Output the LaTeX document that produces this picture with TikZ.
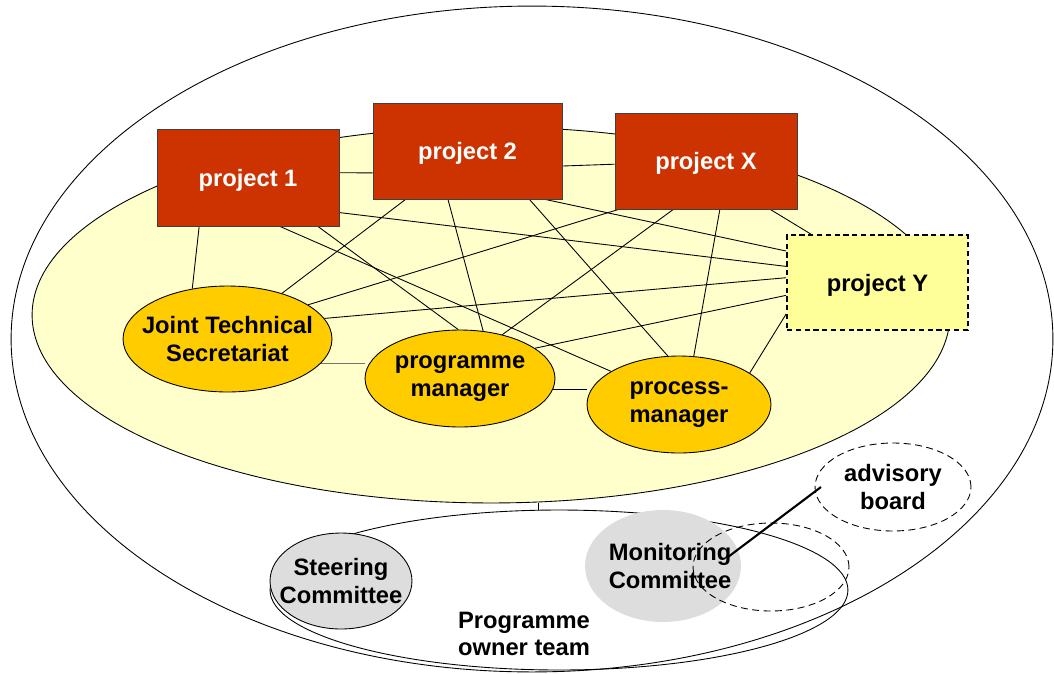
\documentclass[tikz,border=0pt]{standalone}
\usepackage{fontspec}
\setmainfont{Liberation Sans}
\definecolor{projred}{RGB}{204,51,0}
\definecolor{poolyellow}{RGB}{255,255,204}
\definecolor{paleyellow}{RGB}{255,255,153}
\definecolor{mgrgold}{RGB}{255,204,0}
\definecolor{cmtgray}{RGB}{221,221,221}
\usetikzlibrary{shapes.geometric,calc,backgrounds}

\begin{document}
\begin{tikzpicture}[x=0.02cm, y=-0.02cm,
    every node/.style={font=\fontsize{13.5}{15.6}\selectfont\bfseries, align=center},
    project/.style={rectangle, draw=black!75, fill=projred, text=white, inner sep=0pt, text depth=0pt},
    role/.style={ellipse, draw=black, line width=0.5pt, fill=mgrgold, inner sep=0pt, inner xsep=-8pt},
    board/.style={ellipse, fill=cmtgray, inner sep=0pt, inner xsep=-8pt},
    link/.style={draw=black, line width=0.5pt}]

    \useasboundingbox (0,0) rectangle (1054,673);

    % PROYECTOS
    \node[project, minimum width=3.64cm, minimum height=1.94cm] (p1) at (248,177.5) {project 1};
    \node[project, minimum width=3.78cm, minimum height=1.92cm] (p2) at (467.5,151) {project 2};
    \node[project, minimum width=3.64cm, minimum height=1.92cm] (pX) at (706,161) {project X};
    \node[project, draw=black, fill=paleyellow, text=black, line width=1pt, dash pattern=on 3pt off 2pt,
          minimum width=3.62cm, minimum height=1.90cm] (pY) at (877.5,282.5) {project Y};

    % GESTION
    \node[role, minimum width=4.18cm, minimum height=2.12cm] (jts) at (227.5,339) {Joint Technical\\Secretariat};
    \node[role, minimum width=3.80cm, minimum height=1.94cm] (pgm) at (460,378.5) {programme\\manager};
    \node[role, minimum width=3.68cm, minimum height=1.94cm] (prc) at (679,404.5) {process-\\manager};

    \begin{pgfonlayer}{background}
        % AREAS
        \draw[line width=0.5pt] (532,339) ellipse [x radius=10.42cm, y radius=6.66cm];
        \filldraw[line width=0.5pt, fill=poolyellow] (491,315) ellipse [x radius=9.18cm, y radius=3.76cm];

        % ENLACES
        \draw[link] (p1.-135) -- (jts.125);
        \draw[link] (p1.-21) -- (pY.170);
        \draw[link] (p1.-57) -- (prc.154);
        \draw[link] (p1.-35.5) -- (pgm.92);
        \draw[link] (p1.3.5) -- (p2.-167.5);
        \draw[link] (p2.-9) -- (pX.-178);
        \draw[link] (p2.-142.5) -- (jts.40);
        \draw[link] (p2.-112) -- (pgm.64);
        \draw[link] (p2.-38.3) -- (prc.103);
        \draw[link] (p2.-32.1) -- (pY.161.4);
        \draw[link] (pX.-151.7) -- (jts.23);
        \draw[link] (pX.-124.5) -- (pgm.46);
        \draw[link] (pX.-74.8) -- (prc.73.6);
        \draw[link] (pX.-37.3) -- (pY.144.1);
        \draw[link] (jts.12) -- (pY.177.2);
        \draw[link] (pgm.22.2) -- (pY.-172.1);
        \draw[link] (prc.24.9) -- (pY.-161.4);
        \draw[link, draw=black!55] (jts.-15) -- (jts.-15 -| pgm.west);
        \draw[link] (pgm.-7.7) -- (pgm.-7.7 -| prc.west);

        \coordinate (poolbottom) at (538,503);
        \coordinate (teamtop) at (538,510);
        \draw[link] (poolbottom) -- (teamtop);
    \end{pgfonlayer}

    % EQUIPO DEL PROGRAMA
    \draw[line width=0.5pt] (559,590) ellipse [x radius=5.78cm, y radius=1.6cm];
    \node (team) at (524,634) {Programme\\owner team};

    \node[board, draw=black, line width=0.5pt, minimum width=2.84cm, minimum height=1.92cm] (steer) at (341,581) {Steering\\Committee};
    \node[board, inner xsep=-14pt, minimum width=3.12cm, minimum height=2.24cm] (monit) at (663,566)
        {\hspace*{8pt}Monitoring\\\hspace*{8pt}Committee};
    \draw[line width=0.5pt, dash pattern=on 4pt off 2.5pt] (771,567) ellipse [x radius=1.56cm, y radius=0.88cm];
    \node[ellipse, draw=black, line width=0.5pt, dash pattern=on 4pt off 2.5pt, inner sep=0pt,
          minimum width=3.12cm, minimum height=1.76cm] (advis) at (893,487) {advisory\\board};

    \draw[line width=1.2pt] ($(monit.center)+(65,-9)$) -- ($(advis.center)+(-72,0)$);

\end{tikzpicture}
\end{document}
